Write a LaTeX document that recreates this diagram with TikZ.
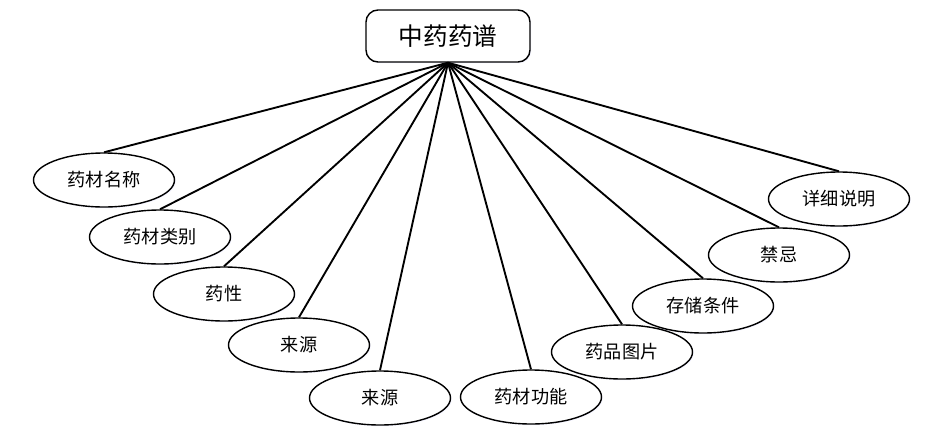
\documentclass[tikz,border=0pt]{standalone}
\usepackage{fontspec}
\setmainfont{Noto Sans CJK SC}
\usetikzlibrary{shapes.geometric,shadows}

\begin{document}
\begin{tikzpicture}[x=0.03cm, y=-0.03cm,
    root/.style={rectangle, rounded corners=0.36cm, minimum width=4.92cm, minimum height=1.56cm, draw=black, line width=1.2pt, fill=white, font=\fontsize{21}{24}\selectfont, drop shadow={opacity=0.12, fill=blue!40, shadow xshift=1pt, shadow yshift=-1pt}},
    leaf/.style={ellipse, minimum width=4.23cm, minimum height=1.62cm, inner sep=0pt, draw=black, line width=1.2pt, fill=white, font=\fontsize{15.5}{18}\selectfont, drop shadow={opacity=0.12, fill=blue!40, shadow xshift=1pt, shadow yshift=-1pt}},
    link/.style={line width=1.6pt}]
        \useasboundingbox (0,0) rectangle (946,438);
        % the root
        \node[root] (top) at (448,36) {中药药谱};
        % the fields
        \node[leaf] (mc) at (104,180) {药材名称};
        \node[leaf] (lb) at (160,237) {药材类别};
        \node[leaf] (yx) at (224,294) {药性};
        \node[leaf] (ly) at (299,345) {来源};
        \node[leaf] (lyb) at (380,398) {来源};
        \node[leaf] (gn) at (531,397) {药材功能};
        \node[leaf] (tp) at (622,352) {药品图片};
        \node[leaf] (cc) at (703,306) {存储条件};
        \node[leaf] (jj) at (779,255) {禁忌};
        \node[leaf] (sm) at (839,199) {详细说明};
        \begin{scope}[on background layer/.try]
        \foreach \n in {mc,lb,yx,ly,lyb,gn,tp,cc,jj,sm}
            \draw[link] (top.south) -- (\n.north);
        \end{scope}
    \end{tikzpicture}
\end{document}
